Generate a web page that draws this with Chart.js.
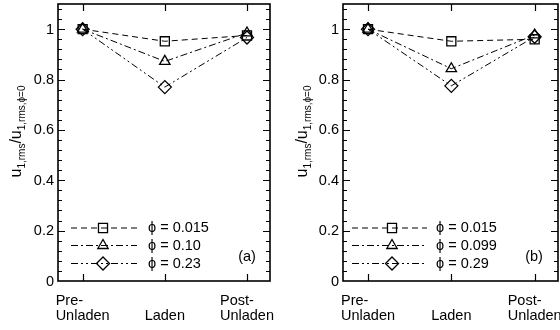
<!DOCTYPE html>
<html>
<head>
<meta charset="utf-8">
<script src="https://cdn.jsdelivr.net/npm/chart.js@4.4.1/dist/chart.umd.min.js"></script>
<style>
  html, body { margin: 0; padding: 0; background: #fff; }
  #wrap { position: relative; width: 560px; height: 330px; }
  canvas { position: absolute; top: 0; }
</style>
</head>
<body>
<div id="wrap">
  <canvas id="chartA" width="280" height="330" style="left:0"></canvas>
  <canvas id="chartB" width="280" height="330" style="left:280px"></canvas>
</div>
<script>
// x categories and y ticks
const categories = [["Pre-", "Unladen"], ["", "Laden"], ["Post-", "Unladen"]];
const yTicks = [0, 0.2, 0.4, 0.6, 0.8, 1];

// panel (a)
const phiA = ["0.015", "0.10", "0.23"];
const squareA = [1, 0.952, 0.975];
const triangleA = [1, 0.872, 0.985];
const diamondA = [1, 0.77, 0.967];

// panel (b)
const phiB = ["0.015", "0.099", "0.29"];
const squareB = [1, 0.952, 0.96];
const triangleB = [1, 0.843, 0.977];
const diamondB = [1, 0.775, 0.97];

const FONT = "'Liberation Sans', Arial, Helvetica, sans-serif";
const styles = [
  { point: "rect", radius: 6.4, dash: [6, 4] },
  { point: "triangle", radius: 6, dash: [7, 3, 2, 3] },
  { point: "rectRot", radius: 6.5, dash: [7, 3, 2, 3, 2, 3] },
];

const framePlugin = {
  id: "frame",
  afterDraw(chart, args, opts) {
    const ctx = chart.ctx;
    const a = chart.chartArea;
    const xs = chart.scales.x, ys = chart.scales.y;
    ctx.save();
    ctx.strokeStyle = "#000";
    ctx.lineWidth = 1.6;
    ctx.setLineDash([]);
    ctx.strokeRect(a.left, a.top, a.right - a.left, a.bottom - a.top);

    // y ticks, both sides, major + minor
    ctx.lineWidth = 1.2;
    ctx.beginPath();
    for (let i = 1; i * 0.04 < 1.1; i++) {
      const v = i * 0.04;
      const py = Math.round(ys.getPixelForValue(v)) + 0.5;
      const major = i % 5 === 0;
      const len = major ? 7 : 4;
      ctx.moveTo(a.left, py); ctx.lineTo(a.left + len, py);
      ctx.moveTo(a.right, py); ctx.lineTo(a.right - len, py);
    }
    // x ticks top/bottom
    categories.forEach((c, i) => {
      const px = Math.round(xs.getPixelForValue(i)) + 0.5;
      ctx.moveTo(px, a.bottom); ctx.lineTo(px, a.bottom - 7);
      ctx.moveTo(px, a.top); ctx.lineTo(px, a.top + 7);
    });
    ctx.stroke();

    ctx.fillStyle = "#000";
    ctx.font = "14.5px " + FONT;

    // y labels
    ctx.textAlign = "right";
    ctx.textBaseline = "middle";
    yTicks.forEach(v => ctx.fillText(String(v), a.left - 4, ys.getPixelForValue(v) + 0.5));

    // x labels: lines left-aligned, block centred on the tick
    ctx.textAlign = "left";
    ctx.textBaseline = "alphabetic";
    categories.forEach((lines, i) => {
      const px = xs.getPixelForValue(i);
      const w = Math.max(...lines.map(t => ctx.measureText(t).width));
      lines.forEach((t, k) => ctx.fillText(t, px - w / 2, a.bottom + 24 + k * 15));
    });

    // y axis title with subscripts
    const main = "16px " + FONT, sub = "10px " + FONT;
    const parts = [
      ["u", main, 0], ["1,rms", sub, 4], ["/", main, 0],
      ["u", main, 0], ["1,rms,\u03D5=0", sub, 4],
    ];
    let total = 0;
    parts.forEach(p => { ctx.font = p[1]; total += ctx.measureText(p[0]).width; });
    ctx.translate(a.left - opts.titleGap, (a.top + a.bottom) / 2 - 11);
    ctx.rotate(-Math.PI / 2);
    let x = -total / 2;
    parts.forEach(p => {
      ctx.font = p[1];
      ctx.fillText(p[0], x, p[2]);
      x += ctx.measureText(p[0]).width;
    });
    ctx.restore();

    // legend
    const L = opts.legend;
    ctx.save();
    ctx.strokeStyle = "#000";
    ctx.font = "14.5px " + FONT;
    ctx.textBaseline = "middle";
    opts.labels.forEach((lab, i) => {
      const y = a.bottom + L.rows[i];
      const s = styles[i];
      ctx.lineWidth = 1;
      ctx.setLineDash(s.dash);
      ctx.beginPath();
      ctx.moveTo(a.left + L.x0, y);
      ctx.lineTo(a.left + L.x1, y);
      ctx.stroke();
      ctx.setLineDash([]);
      ctx.fillStyle = "rgba(0,0,0,0)";
      ctx.lineWidth = 1.3;
      Chart.helpers.drawPoint(ctx, { pointStyle: s.point, radius: s.radius, borderWidth: 1.3 }, a.left + L.xm, y);
      ctx.fillStyle = "#000";
      ctx.fillText("\u03D5 = " + lab, a.left + L.xt, y);
    });
    ctx.textAlign = "center";
    ctx.fillText(opts.panel, a.right - opts.panelDx, a.bottom - 24);
    ctx.restore();
  }
};

function makeChart(id, series, labels, panel, leftW, rightPad, legend, titleGap, panelDx) {
  const datasets = series.map((vals, i) => ({
    data: vals.map((v, k) => ({ x: k, y: v })),
    borderColor: "#000",
    backgroundColor: "rgba(0,0,0,0)",
    borderWidth: 1,
    borderDash: styles[i].dash,
    pointStyle: styles[i].point,
    pointRadius: styles[i].radius,
    pointBorderWidth: 1.3,
    pointBorderColor: "#000",
    pointBackgroundColor: "rgba(0,0,0,0)",
    tension: 0,
    clip: false,
  }));
  return new Chart(document.getElementById(id).getContext("2d"), {
    type: "line",
    data: { datasets },
    options: {
      responsive: false,
      animation: false,
      layout: { autoPadding: false, padding: { top: 4, right: rightPad, left: 0, bottom: 0 } },
      plugins: {
        legend: { display: false },
        tooltip: { enabled: false },
        frame: { labels, panel, legend, titleGap, panelDx },
      },
      scales: {
        x: {
          type: "linear",
          min: -0.3,
          max: 2.28,
          grid: { display: false },
          border: { display: false },
          afterBuildTicks: s => { s.ticks = categories.map((c, i) => ({ value: i })); },
          afterFit: s => { s.height = 49; },
          ticks: { display: false },
        },
        y: {
          min: 0,
          max: 1.1,
          grid: { display: false },
          border: { display: false },
          afterBuildTicks: s => { s.ticks = yTicks.map(v => ({ value: v })); },
          afterFit: s => { s.width = leftW; },
          ticks: { display: false },
        },
      },
    },
    plugins: [framePlugin],
  });
}

makeChart("chartA", [squareA, triangleA, diamondA], phiA, "(a)", 58, 10,
  { x0: 13, xm: 45, x1: 79, xt: 90, rows: [-53, -35.5, -17.5] }, 37, 23);
makeChart("chartB", [squareB, triangleB, diamondB], phiB, "(b)", 63, 2,
  { x0: 9, xm: 49, x1: 84, xt: 93, rows: [-53, -35.5, -17.5] }, 36, 24);
</script>
</body>
</html>
